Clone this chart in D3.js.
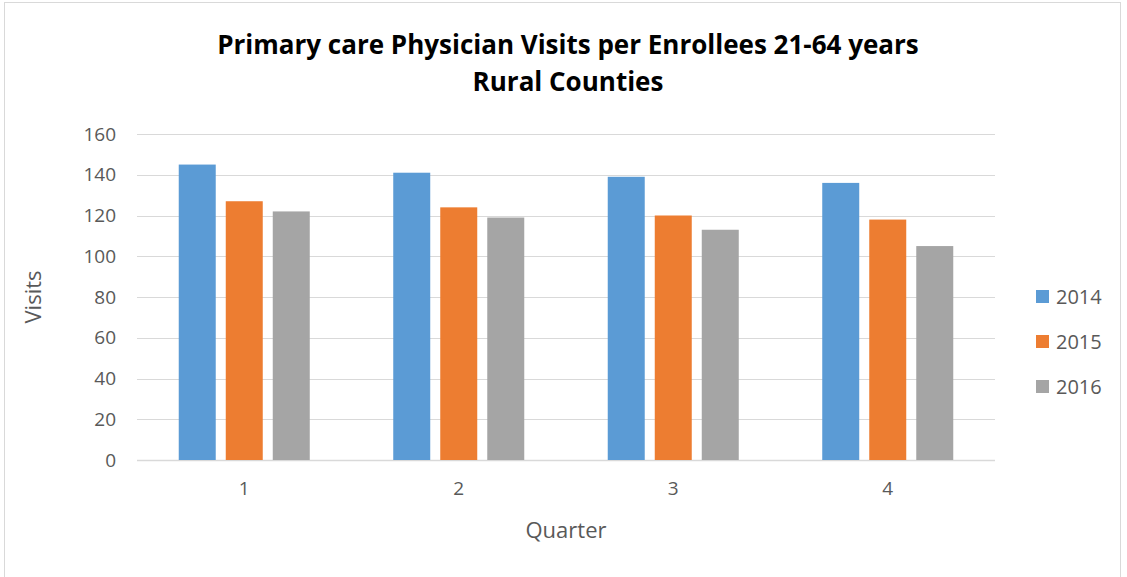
<!DOCTYPE html>
<html>
<head>
<meta charset="utf-8">
<script src="https://cdn.jsdelivr.net/npm/d3@7"></script>
<style>
  html, body { margin: 0; padding: 0; background: #fff; }
  svg { display: block; }
</style>
</head>
<body>
<svg id="chart" width="1127" height="577"></svg>
<script>
// Quarterly primary care visits per enrollee, rural counties
const quarters = ["1", "2", "3", "4"];
const years = ["2014", "2015", "2016"];
const visits2014 = [145, 141, 139, 136];
const visits2015 = [127, 124, 120, 118];
const visits2016 = [122, 119, 113, 105];
const yTicks = [0, 20, 40, 60, 80, 100, 120, 140, 160];
const titleLines = ["Primary care Physician Visits per Enrollees 21-64 years", "Rural Counties"];

const seriesValues = { "2014": visits2014, "2015": visits2015, "2016": visits2016 };
const colors = { "2014": "#5B9BD5", "2015": "#ED7D31", "2016": "#A5A5A5" };

const svg = d3.select("#chart");
const font = "'Open Sans', Lato, sans-serif";

// chart frame
svg.append("rect")
  .attr("x", 4.5).attr("y", 2.5)
  .attr("width", 1116).attr("height", 580)
  .attr("fill", "#fff").attr("stroke", "#D9D9D9").attr("stroke-width", 1);

const plot = { left: 137, right: 995, top: 134, bottom: 460 };

const x0 = d3.scaleBand().domain(quarters).range([plot.left, plot.right]).padding(0);
const x1 = d3.scaleBand().domain(years).range([0, x0.bandwidth()])
  .paddingInner(0.213).paddingOuter(0.888);
const y = d3.scaleLinear().domain([0, 160]).range([plot.bottom, plot.top]);

// gridlines
svg.append("g")
  .selectAll("line")
  .data(yTicks)
  .join("line")
  .attr("x1", plot.left).attr("x2", plot.right)
  .attr("y1", d => Math.round(y(d)) + 0.5).attr("y2", d => Math.round(y(d)) + 0.5)
  .attr("stroke", "#D9D9D9").attr("stroke-width", d => d === 0 ? 1.5 : 1);

// bars
const groups = svg.append("g")
  .selectAll("g")
  .data(quarters)
  .join("g")
  .attr("transform", d => `translate(${x0(d)},0)`);

groups.selectAll("rect")
  .data((q, i) => years.map(yr => ({ year: yr, value: seriesValues[yr][i] })))
  .join("rect")
  .attr("x", d => x1(d.year))
  .attr("width", x1.bandwidth())
  .attr("y", d => y(d.value))
  .attr("height", d => y(0) - y(d.value))
  .attr("fill", d => colors[d.year]);

// y axis labels
const yAxis = d3.axisLeft(y).tickValues(yTicks).tickSize(0).tickPadding(21);
const yg = svg.append("g").attr("transform", `translate(${plot.left},0)`).call(yAxis);
yg.select(".domain").remove();
yg.selectAll("text")
  .attr("font-family", font).attr("font-size", 19).attr("fill", "#595959");

// x axis labels
const xAxis = d3.axisBottom(x0).tickSize(0).tickPadding(22);
const xg = svg.append("g").attr("transform", `translate(0,${plot.bottom})`).call(xAxis);
xg.select(".domain").remove();
xg.selectAll("text")
  .attr("font-family", font).attr("font-size", 19).attr("fill", "#595959");

// axis titles
svg.append("text")
  .attr("transform", "translate(41,297) rotate(-90)")
  .attr("text-anchor", "middle")
  .attr("font-family", font).attr("font-size", 22).attr("fill", "#595959")
  .text("Visits");

svg.append("text")
  .attr("x", 566).attr("y", 538)
  .attr("text-anchor", "middle")
  .attr("font-family", font).attr("font-size", 22).attr("fill", "#595959")
  .text("Quarter");

// title, fitted to its line widths
const titleWidths = [717, 193];
svg.append("g")
  .selectAll("text")
  .data(titleLines)
  .join("text")
  .attr("x", 568)
  .attr("y", (d, i) => 54 + i * 37)
  .attr("text-anchor", "middle")
  .attr("font-family", font).attr("font-weight", "bold").attr("font-size", 26)
  .attr("fill", "#000")
  .text(d => d)
  .each(function(d, i) {
    const w = this.getComputedTextLength();
    if (w > titleWidths[i]) {
      d3.select(this).attr("textLength", titleWidths[i]).attr("lengthAdjust", "spacingAndGlyphs");
    }
  });

// legend
const legend = svg.append("g")
  .selectAll("g")
  .data(years)
  .join("g")
  .attr("transform", (d, i) => `translate(1036,${297 + i * 45})`);

legend.append("rect")
  .attr("x", 0).attr("y", -7)
  .attr("width", 13).attr("height", 13)
  .attr("fill", d => colors[d]);

legend.append("text")
  .attr("x", 20).attr("y", 0)
  .attr("dy", "0.35em")
  .attr("font-family", font).attr("font-size", 20).attr("fill", "#595959")
  .text(d => d);
</script>
</body>
</html>
